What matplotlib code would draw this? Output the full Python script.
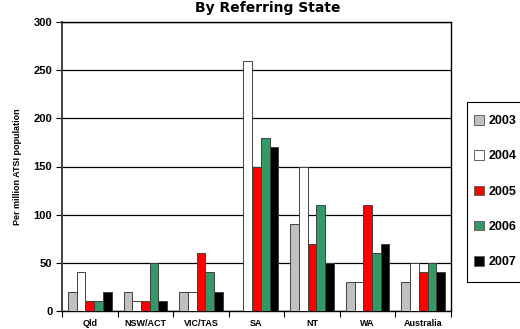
import numpy as np
import matplotlib.pyplot as plt
from matplotlib.patches import Patch, Rectangle

states = ["Qld", "NSW/ACT", "VIC/TAS", "SA", "NT", "WA", "Australia"]
years = ["2003", "2004", "2005", "2006", "2007"]
v2003 = [20, 20, 20, 0, 90, 30, 30]
v2004 = [40, 10, 20, 260, 150, 30, 50]
v2005 = [10, 10, 60, 150, 70, 110, 40]
v2006 = [10, 50, 40, 180, 110, 60, 50]
v2007 = [20, 10, 20, 170, 50, 70, 40]
series = [v2003, v2004, v2005, v2006, v2007]
colors = ["#c0c0c0", "#ffffff", "#ff0000", "#339966", "#000000"]

plt.rcParams['font.family'] = ['Liberation Sans', 'DejaVu Sans']
plt.rcParams['font.weight'] = 'bold'

fig = plt.figure(figsize=(5.2, 3.29), dpi=100)
ax = fig.add_axes([62/520, 1 - 311/329, (451-62)/520, (311-22)/329])

x = np.arange(len(states))
w = 0.157
for i, (vals, c) in enumerate(zip(series, colors)):
    ax.bar(x + (i - 2) * w, vals, w, color=c, edgecolor="#404040",
           linewidth=0.7, zorder=3)

ax.set_xlim(-0.5, len(states) - 0.5)
ax.set_ylim(0, 300)
ax.set_yticks(range(0, 301, 50))
ax.yaxis.grid(True, color="black", linewidth=0.9, zorder=0)
ax.set_xticks(x)
ax.set_xticklabels(states, fontsize=6.5, fontweight='bold')
ax.set_xticks(np.arange(-0.5, len(states)), minor=True)
ax.tick_params(axis='x', which='major', length=0, pad=6)
ax.tick_params(axis='x', which='minor', length=4, width=0.8, direction='out')
ax.tick_params(axis='y', length=4, width=0.8, labelsize=8, pad=3)
for lab in ax.get_yticklabels():
    lab.set_fontweight('bold')
ax.set_ylabel("Per million ATSI population", fontsize=6.5, fontweight='bold', labelpad=8)
for s in ax.spines.values():
    s.set_linewidth(1.0)
    s.set_color("black")
ax.spines['left'].set_color("#404040")
ax.spines['left'].set_linewidth(1.4)

fig.text(0.515, 1 - 1/329, "By Referring State", ha='center', va='top',
         fontsize=10, fontweight='black', family=['DejaVu Sans'])

# legend box drawn separately so it can run past the right edge like the original
fig.patches.append(Rectangle((467/520, 1 - 282/329), 60/520, 180/329,
                             transform=fig.transFigure, facecolor="white",
                             edgecolor="black", linewidth=0.8, zorder=1))
handles = [Patch(facecolor=c, edgecolor="#606060", linewidth=0.7) for c in colors]
leg = fig.legend(handles, years, loc='upper left', bbox_to_anchor=(474/520, 1 - 115/329),
                 frameon=False, prop={'weight': 'bold', 'size': 9},
                 handlelength=0.8, handleheight=0.8, handletextpad=0.35,
                 labelspacing=1.85, borderpad=0, borderaxespad=0)
leg.set_zorder(2)

fig.savefig("out.png", dpi=100)
